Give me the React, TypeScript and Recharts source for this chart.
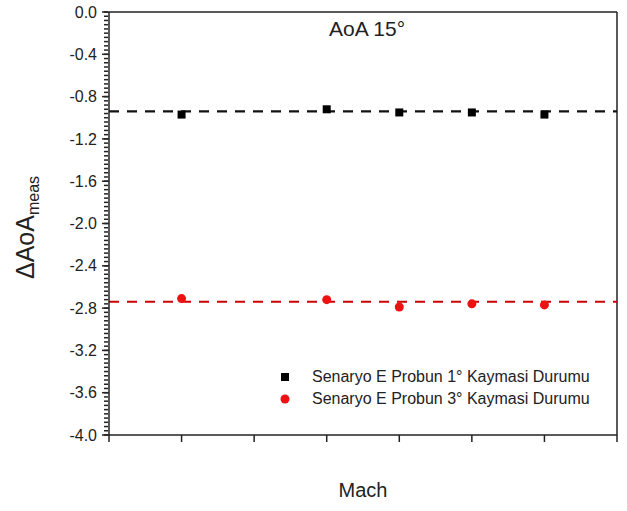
import React from 'react';
import { ComposedChart, Scatter, XAxis, YAxis, ReferenceLine } from 'recharts';

// Mach numbers tested
const machValues = [0.1, 0.3, 0.4, 0.5, 0.6];
// ΔAoA_meas for the 1° probe slip case
const probe1Values = [-0.97, -0.92, -0.95, -0.95, -0.97];
// ΔAoA_meas for the 3° probe slip case
const probe3Values = [-2.71, -2.72, -2.79, -2.76, -2.77];
// dashed reference levels
const probe1Level = -0.94;
const probe3Level = -2.74;

const xMajorTicks = [0.0, 0.1, 0.2, 0.3, 0.4, 0.5, 0.6, 0.7];
const yMajorTicks = [0.0, -0.4, -0.8, -1.2, -1.6, -2.0, -2.4, -2.8, -3.2, -3.6, -4.0];

const series1Name = 'Senaryo E Probun 1° Kaymasi Durumu';
const series3Name = 'Senaryo E Probun 3° Kaymasi Durumu';

// minor ticks between majors (5 per 0.1 on x, 10 per 0.4 on y)
const subdivide = (majors: number[], n: number) => {
    const out: number[] = [];
    for (let i = 0; i < majors.length - 1; i++) {
        for (let k = 0; k < n; k++) out.push(+(majors[i] + ((majors[i + 1] - majors[i]) * k) / n).toFixed(4));
    }
    out.push(majors[majors.length - 1]);
    return out;
};
const xTicks = subdivide(xMajorTicks, 5);
const yTicks = subdivide(yMajorTicks, 10);

const probe1Data = machValues.map((m, i) => ({ mach: m, val: probe1Values[i] }));
const probe3Data = machValues.map((m, i) => ({ mach: m, val: probe3Values[i] }));

const AXIS = '#222';
const TEXT = '#222';
const FONT = '"Liberation Sans", Arial, sans-serif';

const isMajor = (v: number, list: number[]) => list.some((m) => Math.abs(m - v) < 1e-6);
const tickFont = { fontSize: 16, fill: TEXT, fontFamily: FONT };

const Square = (p: any) => <rect x={p.cx - 4} y={p.cy - 4} width={8} height={8} fill="#000" />;
const Dot = (p: any) => <circle cx={p.cx} cy={p.cy} r={4.5} fill="#ee1111" />;

const App: React.FC = () => {
    return (
        <div style={{ position: 'relative', width: 627, height: 511, background: '#fff' }}>
            <style>{'body{margin:0}'}</style>
            <ComposedChart width={627} height={511} margin={{ top: 12, right: 10, left: 0, bottom: 0 }}>
                {/* thin axes next to the plot: axis line + long major ticks */}
                <XAxis
                    type="number"
                    dataKey="mach"
                    domain={[0, 0.7]}
                    ticks={xMajorTicks}
                    interval={0}
                    tickFormatter={() => ''}
                    tickLine={{ stroke: AXIS, strokeWidth: 1.5 }}
                    tickSize={7}
                    height={1}
                    stroke={AXIS}
                    strokeWidth={1.5}
                    allowDataOverflow
                />
                <YAxis
                    type="number"
                    dataKey="val"
                    domain={[-4, 0]}
                    ticks={yMajorTicks}
                    interval={0}
                    tickFormatter={() => ''}
                    tickLine={{ stroke: AXIS, strokeWidth: 1.5 }}
                    tickSize={7}
                    width={1}
                    stroke={AXIS}
                    strokeWidth={1.5}
                    allowDataOverflow
                />
                {/* outer axes: short minor ticks + labels */}
                <XAxis
                    xAxisId="minor"
                    type="number"
                    domain={[0, 0.7]}
                    ticks={xTicks}
                    interval={0}
                    tickFormatter={(v: number) => (isMajor(v, xMajorTicks) ? v.toFixed(1) : '')}
                    tick={tickFont}
                    tickLine={{ stroke: AXIS, strokeWidth: 1.5 }}
                    tickSize={4}
                    tickMargin={12}
                    axisLine={false}
                    height={75}
                    allowDataOverflow
                />
                <YAxis
                    yAxisId="minor"
                    type="number"
                    domain={[-4, 0]}
                    ticks={yTicks}
                    interval={0}
                    tickFormatter={(v: number) => (isMajor(v, yMajorTicks) ? v.toFixed(1) : '')}
                    tick={tickFont}
                    tickLine={{ stroke: AXIS, strokeWidth: 1.5 }}
                    tickSize={4}
                    tickMargin={7}
                    axisLine={false}
                    width={108}
                    allowDataOverflow
                />
                <ReferenceLine y={0} stroke={AXIS} strokeWidth={1.5} />
                <ReferenceLine x={0.7} stroke={AXIS} strokeWidth={1.5} />
                <ReferenceLine y={probe1Level} stroke="#111" strokeWidth={2.2} strokeDasharray="10 8" />
                <ReferenceLine y={probe3Level} stroke="#cc0000" strokeWidth={2.2} strokeDasharray="10 8" />
                <Scatter name={series1Name} data={probe1Data} shape={Square} isAnimationActive={false} />
                <Scatter name={series3Name} data={probe3Data} shape={Dot} isAnimationActive={false} />
            </ComposedChart>
            <div
                style={{
                    position: 'absolute',
                    left: 279,
                    top: 366,
                    fontFamily: FONT,
                    fontSize: 16,
                    color: TEXT,
                    lineHeight: '22px',
                }}
            >
                <div style={{ display: 'flex', alignItems: 'center' }}>
                    <svg width={33} height={22}>
                        <rect x={2} y={7} width={8} height={8} fill="#000" />
                    </svg>
                    <span>{series1Name}</span>
                </div>
                <div style={{ display: 'flex', alignItems: 'center' }}>
                    <svg width={33} height={22}>
                        <circle cx={6} cy={11} r={4.5} fill="#ee1111" />
                    </svg>
                    <span>{series3Name}</span>
                </div>
            </div>
            <div
                style={{
                    position: 'absolute',
                    left: 329,
                    top: 17,
                    fontFamily: FONT,
                    fontSize: 21,
                    color: TEXT,
                    lineHeight: '24px',
                }}
            >
                AoA 15°
            </div>
            <div
                style={{
                    position: 'absolute',
                    left: 0,
                    top: 479,
                    width: 627,
                    textAlign: 'center',
                    paddingLeft: 99,
                    boxSizing: 'border-box',
                    fontFamily: FONT,
                    fontSize: 20,
                    color: TEXT,
                }}
            >
                Mach
            </div>
            <svg style={{ position: 'absolute', left: 0, top: 0, pointerEvents: 'none' }} width={60} height={511}>
                <text transform="translate(34,279) rotate(-90)" fontFamily={FONT} fontSize={25} fill={TEXT}>
                    ΔAoA
                    <tspan fontSize={16} dy={5}>
                        meas
                    </tspan>
                </text>
            </svg>
        </div>
    );
};

export default App;
